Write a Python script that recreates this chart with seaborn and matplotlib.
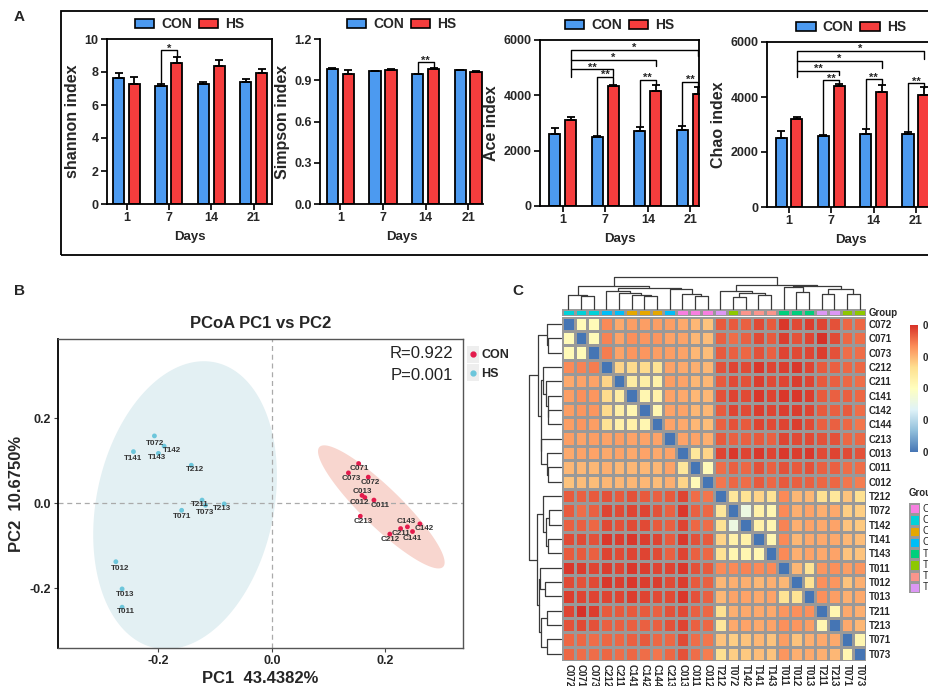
import numpy as np
import pandas as pd
import seaborn as sns
import matplotlib.pyplot as plt
from matplotlib.patches import Patch, Rectangle
from matplotlib.lines import Line2D
from matplotlib.colors import LinearSegmentedColormap, ListedColormap

W, H = 929, 686

# ---------------- panel A: alpha diversity ----------------
days = ["1", "7", "14", "21"]
groups = ["CON", "HS"]

shannon_con = [7.65, 7.18, 7.28, 7.42]
shannon_con_err = [0.26, 0.10, 0.10, 0.18]
shannon_hs = [7.25, 8.55, 8.35, 7.92]
shannon_hs_err = [0.47, 0.36, 0.37, 0.26]

simpson_con = [0.984, 0.965, 0.944, 0.972]
simpson_con_err = [0.004, 0.003, 0.003, 0.003]
simpson_hs = [0.943, 0.972, 0.979, 0.958]
simpson_hs_err = [0.028, 0.012, 0.008, 0.012]

ace_con = [2620, 2510, 2700, 2750]
ace_con_err = [205, 25, 145, 155]
ace_hs = [3100, 4330, 4160, 4040]
ace_hs_err = [130, 55, 215, 250]

chao_con = [2500, 2590, 2660, 2660]
chao_con_err = [280, 35, 170, 70]
chao_hs = [3190, 4400, 4200, 4080]
chao_hs_err = [95, 60, 240, 280]

# significance brackets: (day, group) left, (day, group) right, line y, left end, right end, label
shannon_sig = [((1, 0), (1, 1), 9.33, 7.31, 8.93, "*")]
simpson_sig = [((2, 0), (2, 1), 1.033, 0.955, 0.99, "**")]
ace_sig = [
    ((1, 0), (1, 1), 4680, 2560, 4400, "**"),
    ((2, 0), (2, 1), 4560, 2860, 4380, "**"),
    ((3, 0), (3, 1), 4500, 2920, 4300, "**"),
    ((0, 1), (1, 1), 4945, 4680, 4700, "**"),
    ((0, 1), (2, 1), 5285, 4945, 5070, "*"),
    ((0, 1), (3, 1), 5650, 5285, 5430, "*"),
]
chao_sig = [
    ((1, 0), (1, 1), 4620, 2630, 4440, "**"),
    ((2, 0), (2, 1), 4640, 2830, 4440, "**"),
    ((3, 0), (3, 1), 4500, 2740, 4320, "**"),
    ((0, 1), (1, 1), 4960, 4720, 4800, "**"),
    ((0, 1), (2, 1), 5320, 4960, 5040, "*"),
    ((0, 1), (3, 1), 5680, 5320, 5370, "*"),
]

# ---------------- panel B: PCoA ----------------
con_names = ["C071", "C073", "C072", "C013", "C012", "C011",
             "C213", "C143", "C142", "C211", "C141", "C212"]
con_pc1 = [0.153, 0.135, 0.170, 0.159, 0.164, 0.180, 0.156, 0.239, 0.261, 0.227, 0.248, 0.208]
con_pc2 = [0.093, 0.071, 0.061, 0.018, 0.013, 0.007, -0.031, -0.056, -0.049, -0.060, -0.067, -0.073]
hs_names = ["T072", "T142", "T141", "T143", "T212", "T211",
            "T073", "T213", "T071", "T012", "T013", "T011"]
hs_pc1 = [-0.207, -0.190, -0.244, -0.200, -0.142, -0.123, -0.117, -0.084, -0.159, -0.275, -0.264, -0.264]
hs_pc2 = [0.158, 0.134, 0.121, 0.117, 0.089, 0.007, -0.005, -0.002, -0.017, -0.138, -0.202, -0.245]

# group ellipses: centre and the two semi-axis vectors (data units)
con_ell_center = (0.193, -0.009)
con_ell_axes = [(0.109, -0.141), (0.024, 0.033)]
hs_ell_center = (-0.153, -0.005)
hs_ell_axes = [(0.053, 0.336), (0.153, -0.043)]

# label nudges (points), like ggrepel placed them
label_nudge = {
    "T142": (5.5, -3), "T212": (3, -3.4), "T213": (-1.7, -3.4), "T073": (0, -5),
    "T211": (-1.4, -3.1), "T071": (0, -4.6), "T012": (2.9, -4.8), "T013": (1.9, -3.8),
    "T011": (3.1, -3.1), "T072": (0.5, -5.3), "T141": (0, -4.8), "T143": (-0.7, -3.1),
    "C071": (0.7, -3.8), "C073": (2.4, -4.3), "C072": (1.7, -4.1), "C013": (0, 2.9),
    "C012": (-3.8, -3.6), "C011": (4.3, -3.8), "C213": (1.9, -3.6), "C143": (-0.7, 3.8),
    "C142": (3.1, -3.6), "C211": (0.5, -3.4), "C141": (0, -5.3), "C212": (0.5, -3.8),
}

# ---------------- panel C: distance heatmap ----------------
hm_names = ["C072", "C071", "C073", "C212", "C211", "C141", "C142", "C144", "C213", "C013", "C011", "C012",
            "T212", "T072", "T142", "T141", "T143", "T011", "T012", "T013", "T211", "T213", "T071", "T073"]
cc = [
    [0, .42, .42, .67, .62, .64, .64, .64, .64, .62, .60, .58],
    [.42, 0, .42, .68, .63, .66, .65, .65, .63, .63, .60, .59],
    [.42, .42, 0, .69, .63, .65, .65, .64, .64, .63, .60, .59],
    [.67, .68, .69, 0, .55, .54, .54, .52, .63, .62, .61, .60],
    [.62, .63, .63, .55, 0, .48, .47, .46, .64, .63, .60, .60],
    [.64, .66, .65, .54, .48, 0, .44, .46, .63, .62, .60, .60],
    [.64, .65, .65, .54, .47, .44, 0, .44, .63, .63, .60, .60],
    [.64, .65, .64, .52, .46, .46, .44, 0, .63, .62, .60, .59],
    [.64, .63, .64, .63, .64, .63, .63, .63, 0, .63, .63, .61],
    [.62, .63, .63, .62, .63, .62, .63, .62, .63, 0, .50, .55],
    [.60, .60, .60, .61, .60, .60, .60, .60, .63, .50, 0, .42],
    [.58, .59, .59, .60, .60, .60, .60, .59, .61, .55, .42, 0],
]
ct = [
    [.74, .74, .73, .76, .74, .79, .76, .78, .77, .75, .72, .72],
    [.73, .71, .73, .76, .74, .78, .75, .77, .80, .76, .72, .71],
    [.74, .73, .72, .75, .73, .77, .76, .77, .78, .75, .71, .71],
    [.75, .77, .76, .79, .77, .78, .79, .77, .74, .73, .72, .72],
    [.74, .76, .75, .78, .76, .77, .78, .77, .74, .73, .72, .71],
    [.75, .77, .76, .79, .77, .79, .79, .78, .74, .73, .73, .72],
    [.74, .77, .76, .78, .77, .78, .78, .77, .74, .73, .74, .71],
    [.73, .75, .74, .77, .76, .77, .78, .76, .73, .73, .72, .70],
    [.74, .73, .73, .74, .73, .77, .76, .76, .75, .75, .72, .72],
    [.77, .79, .77, .79, .77, .79, .78, .79, .76, .77, .76, .75],
    [.71, .73, .72, .75, .73, .75, .74, .75, .73, .73, .71, .71],
    [.70, .72, .71, .74, .72, .74, .73, .73, .72, .72, .70, .69],
]
tt = [
    [0, .50, .52, .55, .52, .67, .60, .60, .53, .50, .58, .53],
    [.50, 0, .32, .46, .44, .67, .61, .63, .61, .62, .56, .56],
    [.52, .32, 0, .46, .44, .68, .61, .63, .62, .63, .58, .57],
    [.55, .46, .46, 0, .44, .67, .60, .62, .62, .62, .60, .59],
    [.52, .44, .44, .44, 0, .67, .61, .63, .62, .63, .58, .58],
    [.67, .67, .68, .67, .67, 0, .60, .52, .65, .66, .64, .65],
    [.60, .61, .61, .60, .61, .60, 0, .52, .66, .65, .58, .61],
    [.60, .63, .63, .62, .63, .52, .52, 0, .66, .64, .61, .62],
    [.53, .61, .62, .62, .62, .65, .66, .66, 0, .44, .62, .61],
    [.50, .62, .63, .62, .63, .66, .65, .64, .44, 0, .62, .60],
    [.58, .56, .58, .60, .58, .64, .58, .61, .62, .62, 0, .44],
    [.53, .56, .57, .59, .58, .65, .61, .62, .61, .60, .44, 0],
]
# cluster tree: (height, left, right)
tree = (1.0,
        (0.73,
         (0.43, "C072", (0.40, "C071", "C073")),
         (0.64,
          (0.55, "C212", (0.48, "C211", (0.42, "C141", (0.40, "C142", "C144")))),
          (0.62, "C213", (0.45, "C013", (0.40, "C011", "C012"))))),
        (0.75,
         (0.55, "T212", (0.48, (0.38, "T072", "T142"), (0.42, "T141", "T143"))),
         (0.70,
          (0.67, "T011", (0.51, "T012", "T013")),
          (0.62, (0.45, "T211", "T213"), (0.45, "T071", "T073")))))
group_names = ["C01", "C07", "C14", "C21", "T01", "T07", "T14", "T21"]
group_colors = ["#F77FE0", "#00D2D8", "#E6A700", "#00BEF8", "#00CF7C", "#8DC800", "#FA958C", "#DC97F4"]

# ---------------- style ----------------
sns.set_style("ticks")
plt.rcParams["font.family"] = ["Liberation Sans", "DejaVu Sans"]
plt.rcParams["font.weight"] = "bold"
plt.rcParams["axes.labelweight"] = "bold"
plt.rcParams["axes.titleweight"] = "bold"

bar_colors = {"CON": "#4C9AF0", "HS": "#F53D3D"}

fig = plt.figure(figsize=(W / 100, H / 100), dpi=100)


def px_axes(l, t, r, b):
    return fig.add_axes([l / W, 1 - b / H, (r - l) / W, (b - t) / H])


def bar_panel(rect, con, con_err, hs, hs_err, ylim, yticks, ylabel, xlim, sig, fmt, box):
    ax = px_axes(*rect)
    df = pd.DataFrame({"Days": days * 2, "Group": ["CON"] * 4 + ["HS"] * 4, "value": con + hs})
    sns.barplot(data=df, x="Days", y="value", hue="Group", order=days, hue_order=groups,
                palette=bar_colors, saturation=1, width=0.75, gap=0.3, errorbar=None,
                edgecolor="black", linewidth=1.3, legend=False, ax=ax)
    centers = {}
    for gi, cont in enumerate(ax.containers):
        for di, bar in enumerate(cont):
            centers[(di, gi)] = bar.get_x() + bar.get_width() / 2
    for gi, (vals, errs) in enumerate([(con, con_err), (hs, hs_err)]):
        xs = [centers[(di, gi)] for di in range(4)]
        ax.errorbar(xs, vals, yerr=[np.zeros(4), errs], fmt="none", ecolor="black",
                    elinewidth=1.3, capsize=3, capthick=1.3, zorder=3)
    for left, right, y, yl, yr, lab in sig:
        xl, xr = centers[left], centers[right]
        ax.plot([xl, xl, xr, xr], [yl, y, y, yr], color="black", lw=1.0, clip_on=False, zorder=4)
        ax.annotate(lab, ((xl + xr) / 2, y), xytext=(0, -2.5), textcoords="offset points",
                    ha="center", va="bottom", fontsize=8)
    ax.set_xlim(*xlim)
    ax.set_ylim(*ylim)
    ax.set_yticks(yticks)
    ax.set_yticklabels([fmt.format(v) for v in yticks])
    ax.set_ylabel(ylabel, fontsize=11.5, labelpad=3)
    ax.set_xlabel("Days", fontsize=9.5, labelpad=5)
    ax.tick_params(direction="out", length=4, width=1.2, labelsize=9, pad=2, color="black")
    for s in ax.spines.values():
        s.set_linewidth(1.3)
        s.set_color("black")
    if not box:
        sns.despine(ax=ax)
    handles = [Patch(facecolor=bar_colors[g], edgecolor="black", linewidth=1.2) for g in groups]
    ax.legend(handles, groups, loc="lower center", bbox_to_anchor=(0.5, 1.0), ncol=2,
              frameon=False, fontsize=10, handlelength=1.4, handleheight=0.7,
              handletextpad=0.5, columnspacing=0.5, borderaxespad=0.15)
    return ax


bar_panel((107, 39, 272, 204), shannon_con, shannon_con_err, shannon_hs, shannon_hs_err,
          (0, 10), [0, 2, 4, 6, 8, 10], "shannon index", (-0.46, 3.43), shannon_sig, "{:g}", True)
bar_panel((320, 39, 483, 204), simpson_con, simpson_con_err, simpson_hs, simpson_hs_err,
          (0, 1.2), [0, 0.3, 0.6, 0.9, 1.2], "Simpson index", (-0.48, 3.35), simpson_sig, "{:.1f}", False)
bar_panel((540, 40, 699, 206), ace_con, ace_con_err, ace_hs, ace_hs_err,
          (0, 6000), [0, 2000, 4000, 6000], "Ace index", (-0.53, 3.2), ace_sig, "{:g}", True)
bar_panel((767, 42, 935, 207), chao_con, chao_con_err, chao_hs, chao_hs_err,
          (0, 6000), [0, 2000, 4000, 6000], "Chao index", (-0.52, 3.45), chao_sig, "{:g}", True)

fig.add_artist(Rectangle((61 / W, 1 - 255 / H), (960 - 61) / W, (255 - 11) / H,
                         transform=fig.transFigure, fill=False, lw=1.3, ec="black"))

# ---------------- panel B ----------------
pcoa_colors = {"CON": "#E31B4C", "HS": "#6CC6DB"}
ell_colors = {"CON": "#F8D6CF", "HS": "#E3F0F3"}
ellipses = {"CON": (con_ell_center, con_ell_axes), "HS": (hs_ell_center, hs_ell_axes)}
pcoa = pd.DataFrame({
    "sample": con_names + hs_names,
    "PC1": con_pc1 + hs_pc1,
    "PC2": con_pc2 + hs_pc2,
    "Group": ["CON"] * len(con_names) + ["HS"] * len(hs_names),
})

axb = px_axes(58, 339, 463, 648)
t = np.linspace(0, 2 * np.pi, 200)
for g, (c, (a, b)) in ellipses.items():
    ex = c[0] + a[0] * np.cos(t) + b[0] * np.sin(t)
    ey = c[1] + a[1] * np.cos(t) + b[1] * np.sin(t)
    axb.fill(ex, ey, color=ell_colors[g], lw=0, zorder=0)
axb.axhline(0, color="#AAAAAA", ls=(0, (4, 3)), lw=0.9, zorder=1)
axb.axvline(0, color="#AAAAAA", ls=(0, (4, 3)), lw=0.9, zorder=1)
sns.scatterplot(data=pcoa, x="PC1", y="PC2", hue="Group", palette=pcoa_colors, s=12,
                edgecolor="none", legend=False, ax=axb, zorder=3)
for _, r in pcoa.iterrows():
    axb.annotate(r["sample"], (r["PC1"], r["PC2"]), xytext=label_nudge.get(r["sample"], (0, -4)),
                 textcoords="offset points", ha="center", va="center", fontsize=5.8,
                 color="#333333", zorder=4)
axb.set_xlim(-0.377, 0.337)
axb.set_ylim(-0.341, 0.386)
axb.set_xticks([-0.2, 0.0, 0.2])
axb.set_yticks([-0.2, 0.0, 0.2])
axb.set_xticklabels(["-0.2", "0.0", "0.2"])
axb.set_yticklabels(["-0.2", "0.0", "0.2"])
axb.tick_params(length=3, width=0.8, color="#444444", labelsize=9, pad=2)
for name, s in axb.spines.items():
    s.set_color("#555555")
    s.set_linewidth(1.0)
axb.spines["left"].set_color("black")
axb.spines["left"].set_linewidth(1.3)
axb.set_xlabel("PC1  43.4382%", fontsize=12, labelpad=3)
axb.set_ylabel("PC2  10.6750%", fontsize=12, labelpad=4)
axb.set_title("PCoA PC1 vs PC2", fontsize=12, pad=8)
axb.text(0.975, 0.952, "R=0.922", transform=axb.transAxes, ha="right", va="center",
         fontsize=12, fontweight="normal", color="#222222")
axb.text(0.975, 0.882, "P=0.001", transform=axb.transAxes, ha="right", va="center",
         fontsize=12, fontweight="normal", color="#222222")
for i, g in enumerate(groups):
    fig.add_artist(Rectangle((467 / W, 1 - (363 + 18 * i) / H), 12 / W, 17 / H,
                             transform=fig.transFigure, fc="#EEEEEE", ec="none", zorder=-1))
leg_handles = [Line2D([], [], marker="o", ls="", color=pcoa_colors[g], markersize=3.5) for g in groups]
axb.legend(leg_handles, groups, loc="upper left", bbox_to_anchor=(1.005, 0.975), frameon=False,
           fontsize=9, handlelength=0.8, handletextpad=0.3, labelspacing=0.55, borderpad=0.2,
           borderaxespad=0)

# ---------------- panel C ----------------
dist = pd.DataFrame(np.block([[np.array(cc), np.array(ct)], [np.array(ct).T, np.array(tt)]]),
                    index=hm_names, columns=hm_names)
cmap = LinearSegmentedColormap.from_list(
    "rdylbu", ["#4575B4", "#91BFDB", "#E0F3F8", "#FFFFBF", "#FEE090", "#FC8D59", "#D73027"])

ax_hm = px_axes(562, 316.7, 866, 661)
cax = px_axes(910, 325, 918, 452)
sns.heatmap(dist, ax=ax_hm, cmap=cmap, vmin=0, vmax=0.8, linewidths=0.8, linecolor="#999999",
            cbar_ax=cax, xticklabels=True, yticklabels=True)
ax_hm.yaxis.tick_right()
ax_hm.tick_params(axis="y", rotation=0, length=0, labelsize=7, pad=2)
ax_hm.tick_params(axis="x", length=0, labelsize=7, pad=2)
ax_hm.set_xticklabels(hm_names, rotation=270, ha="center", va="top")
ax_hm.set_xlabel("")
ax_hm.set_ylabel("")
cbar = ax_hm.collections[0].colorbar
cbar.set_ticks([0, 0.2, 0.4, 0.6, 0.8])
cbar.set_ticklabels(["0", "0.2", "0.4", "0.6", "0.8"])
cbar.outline.set_visible(False)
cax.tick_params(length=0, labelsize=7, pad=3)

# column annotation bar
codes = [group_names.index(n[:3]) for n in hm_names]
group_cmap = ListedColormap(group_colors)
ax_ann = px_axes(562, 308.7, 866, 316.4)
sns.heatmap(np.array([codes]), ax=ax_ann, cmap=group_cmap, vmin=-0.5, vmax=7.5, cbar=False,
            linewidths=0.8, linecolor="#999999", xticklabels=False, yticklabels=False)
ax_ann.text(24.2, 0.5, "Group", ha="left", va="center", fontsize=7, clip_on=False)

# group legend
ax_gl = px_axes(909, 503, 920, 593)
sns.heatmap(np.arange(len(group_names)).reshape(-1, 1), ax=ax_gl, cmap=group_cmap, vmin=-0.5,
            vmax=7.5, cbar=False, linewidths=0.8, linecolor="#999999",
            xticklabels=False, yticklabels=False)
for i, g in enumerate(group_names):
    ax_gl.text(1.25, i + 0.5, g, ha="left", va="center", fontsize=7, fontweight="normal",
               clip_on=False)
ax_gl.text(0, -0.9, "Group", ha="left", va="center", fontsize=7, clip_on=False)

# dendrograms
leaf_pos = {n: i + 0.5 for i, n in enumerate(hm_names)}


def draw_tree(ax, node, orient):
    if isinstance(node, str):
        return leaf_pos[node], 0.0
    h, left, right = node
    pl, hl = draw_tree(ax, left, orient)
    pr, hr = draw_tree(ax, right, orient)
    pos = [pl, pl, pr, pr]
    hts = [hl, h, h, hr]
    if orient == "top":
        ax.plot(pos, hts, color="#3A3A3A", lw=0.9, clip_on=False)
    else:
        ax.plot(hts, pos, color="#3A3A3A", lw=0.9, clip_on=False)
    return (pl + pr) / 2, h


ax_top = px_axes(562, 277, 866, 308.5)
draw_tree(ax_top, tree, "top")
ax_top.set_xlim(0, 24)
ax_top.set_ylim(0, 1.0)
ax_top.axis("off")

ax_left = px_axes(529, 316.7, 561, 661)
draw_tree(ax_left, tree, "left")
ax_left.set_xlim(1.0, 0)
ax_left.set_ylim(24, 0)
ax_left.axis("off")

# panel letters
fig.text(14 / W, 1 - 17 / H, "A", fontsize=11, ha="left", va="center")
fig.text(14 / W, 1 - 291 / H, "B", fontsize=11, ha="left", va="center")
fig.text(512 / W, 1 - 291 / H, "C", fontsize=11, ha="left", va="center")

fig.savefig("out.png", dpi=100)
